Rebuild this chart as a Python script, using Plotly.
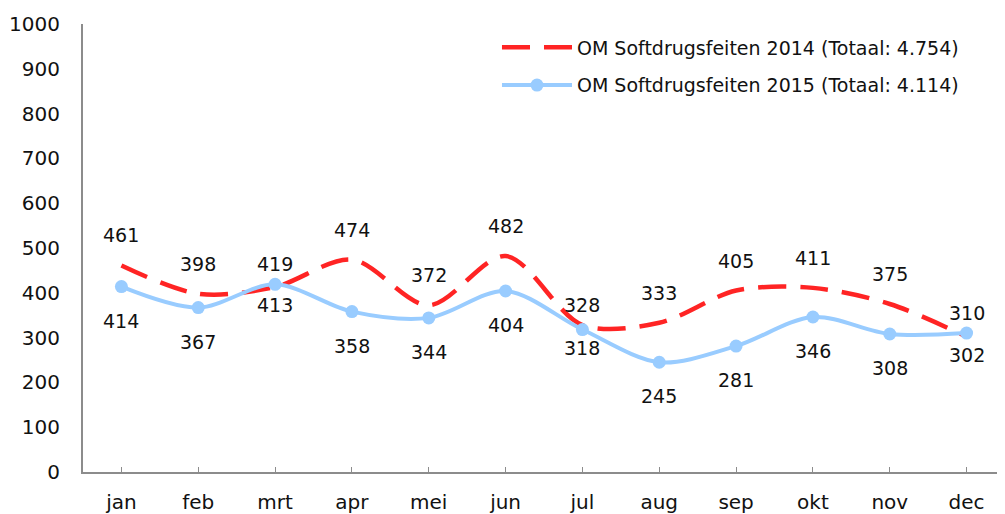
import plotly.graph_objects as go

maanden = ["jan", "feb", "mrt", "apr", "mei", "jun", "jul", "aug", "sep", "okt", "nov", "dec"]
feiten_2014 = [461, 398, 413, 474, 372, 482, 328, 333, 405, 411, 375, 302]
feiten_2015 = [414, 367, 419, 358, 344, 404, 318, 245, 281, 346, 308, 310]
naam_2014 = "OM Softdrugsfeiten 2014 (Totaal: 4.754)"
naam_2015 = "OM Softdrugsfeiten 2015 (Totaal: 4.114)"

ROOD = "#ff2424"
BLAUW = "#99ccff"
FONT = "DejaVu Sans"

fig = go.Figure()
fig.add_trace(go.Scatter(x=maanden, y=feiten_2014, mode="lines", name=naam_2014, legendgroup="a",
                         line=dict(color=ROOD, width=4.5, dash="28px,14px", shape="spline", smoothing=0.9)))
fig.add_trace(go.Scatter(x=maanden, y=feiten_2015, mode="lines+markers", name=naam_2015, legendgroup="b",
                         line=dict(color=BLAUW, width=4, shape="spline", smoothing=0.9),
                         marker=dict(size=13, color=BLAUW)))

# data labels: hoogste waarde boven, laagste onder
for m, a, b in zip(maanden, feiten_2014, feiten_2015):
    dicht = abs(a - b) < 15
    up, down = (20, -18) if dicht else (30, -34)
    for v, hoog in ((a, a >= b), (b, b > a)):
        fig.add_annotation(x=m, y=v, text=str(v), showarrow=False,
                           yshift=up if hoog else down,
                           font=dict(family=FONT, size=19, color="#111"))

fig.update_xaxes(range=[-0.5, 11.5], showline=True, linecolor="#8c8c8c", linewidth=2,
                 ticks="inside", ticklen=5, tickcolor="#8c8c8c", tickwidth=1,
                 showgrid=False, ticklabelstandoff=11, automargin=False,
                 tickfont=dict(family=FONT, size=20, color="#111"))
fig.update_yaxes(range=[0, 1000], dtick=100, showline=True, linecolor="#8c8c8c", linewidth=2,
                 showgrid=False, zeroline=False, ticks="", ticklabelstandoff=17, automargin=False,
                 tickfont=dict(family=FONT, size=20, color="#111"))

# pagina heeft 8px body-marge: figuur iets kleiner zodat alles op zijn plek valt
fig.update_layout(width=997, height=506, plot_bgcolor="white", paper_bgcolor="white",
                  margin=dict(l=75, r=0, t=16, b=42),
                  legend=dict(x=0.449, y=0.99, xanchor="left", yanchor="top", itemwidth=70,
                              bgcolor="rgba(0,0,0,0)", traceorder="grouped", tracegroupgap=10,
                              font=dict(family=FONT, size=19, color="#111")))

fig.write_html("out.html")
